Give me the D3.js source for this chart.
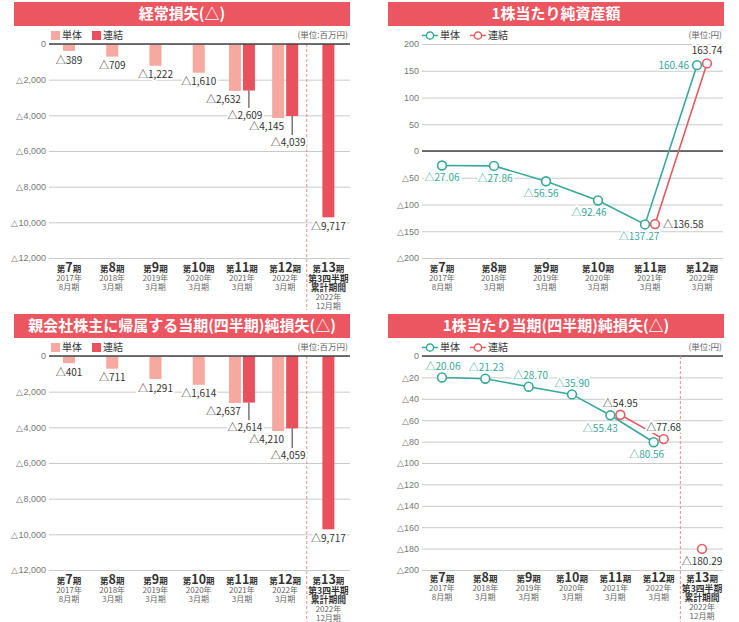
<!DOCTYPE html>
<html><head><meta charset="utf-8">
<script src="https://cdn.jsdelivr.net/npm/d3@7"></script>
<style>body{margin:0;background:#fff}svg{display:block;font-family:"Noto Sans CJK JP","Noto Sans",sans-serif}</style>
</head><body><svg id="c" width="739" height="622"></svg>
<script>
// ---------- data ----------
const periodNums = ["7","8","9","10","11","12","13"];
const periodYears = ["2017年","2018年","2019年","2020年","2021年","2022年","2022年"];
const periodMonths = ["8月期","3月期","3月期","3月期","3月期","3月期","12月期"];
const extraLines13 = ["第3四半期","累計期間"];
const seriesNames = ["単体","連結"];

const ordinaryLossSingle = [-389,-709,-1222,-1610,-2632,-4145,null];
const ordinaryLossConsol = [null,null,null,null,-2609,-4039,-9717];
const netLossSingle = [-401,-711,-1291,-1614,-2637,-4210,null];
const netLossConsol = [null,null,null,null,-2614,-4059,-9717];
const bpsSingle = [-27.06,-27.86,-56.56,-92.46,-137.27,160.46];
const bpsConsol = [null,null,null,null,-136.58,163.74];
const epsSingle = [-20.06,-21.23,-28.70,-35.90,-55.43,-80.56,null];
const epsConsol = [null,null,null,null,-54.95,-77.68,-180.29];

const barTicks = [0,-2000,-4000,-6000,-8000,-10000,-12000];
const bpsTicks = [200,150,100,50,0,-50,-100,-150,-200];
const epsTicks = [0,-20,-40,-60,-80,-100,-120,-140,-160,-180,-200];

const titles = ["経常損失(△)","1株当たり純資産額","親会社株主に帰属する当期(四半期)純損失(△)","1株当たり当期(四半期)純損失(△)"];
const unitMillion = "(単位:百万円)";
const unitYen = "(単位:円)";

// ---------- style ----------
const C = {title:"#ec5660", light:"#f6a9a1", dark:"#e9525c", teal:"#38a898", red:"#e35b62",
  grid:"#cacaca", zero:"#444", tick:"#777", text:"#333", sub:"#666", dash:"#e98b90"};
const svg = d3.select("#c");
svg.append("rect").attr("width",739).attr("height",622).attr("fill","#fff");
const fmtInt = d3.format(",");
const fmt2 = d3.format(".2f");
const tri = v => v===0 ? "0" : (v<0 ? "△"+fmtInt(-v) : fmtInt(v));
const tri2 = v => v<0 ? "△"+fmt2(-v) : fmt2(v);

function titleBar(x0,x1,y0,text){
  svg.append("rect").attr("x",x0).attr("y",y0).attr("width",x1-x0).attr("height",24).attr("fill",C.title);
  svg.append("text").attr("x",(x0+x1)/2).attr("y",y0+12).attr("dy","0.36em").attr("text-anchor","middle")
    .attr("fill","#fff").attr("font-size",15).attr("font-weight","bold").text(text);
}
function unitText(x,y,t){
  svg.append("text").attr("x",x).attr("y",y).attr("dy","0.35em").attr("text-anchor","end")
    .attr("font-size",8.5).attr("fill",C.sub).text(t);
}
function yAxis(y, ticks, left, right, fmt){
  const g = svg.append("g").attr("transform",`translate(${left},0)`)
    .call(d3.axisLeft(y).tickValues(ticks).tickSize(-(right-left)).tickPadding(3).tickFormat(fmt));
  g.select(".domain").remove();
  g.selectAll(".tick line").attr("stroke",C.grid).attr("stroke-width",1);
  g.selectAll(".tick text").attr("fill",C.tick).attr("font-size",9).attr("font-family","inherit");
  return g;
}
function zeroLine(y,left,right){
  svg.append("line").attr("x1",left).attr("x2",right).attr("y1",y(0)).attr("y2",y(0))
    .attr("stroke",C.zero).attr("stroke-width",1.3);
}
// each category label is one multi-line text element
function catLabels(x, base, n){
  for(let i=0;i<n;i++){
    const cx = x(i)+x.bandwidth()/2;
    const t = svg.append("text").attr("x",cx).attr("y",base).attr("text-anchor","middle")
      .attr("fill",C.text);
    t.append("tspan").attr("font-size",8.5).attr("font-weight","bold").text("第");
    t.append("tspan").attr("font-size",12.5).attr("font-weight","bold").text(periodNums[i]);
    t.append("tspan").attr("font-size",8.5).attr("font-weight","bold").text("期");
    let first = true;
    if(i===6){
      extraLines13.forEach(s=>{
        t.append("tspan").attr("x",cx).attr("dy",9.5).attr("font-size",8.8).attr("font-weight","bold")
          .attr("fill",C.text).text(s);
      });
      t.append("tspan").attr("x",cx).attr("dy",8.6).attr("font-size",8).attr("fill",C.sub).text(periodYears[i]);
    } else {
      t.append("tspan").attr("x",cx).attr("dy",8.6).attr("font-size",8).attr("fill",C.sub).text(periodYears[i]);
    }
    t.append("tspan").attr("x",cx).attr("dy",9).attr("font-size",8).attr("fill",C.sub).text(periodMonths[i]);
  }
}
function haloText(x,y,t,color,anchor){
  return svg.append("text").attr("x",x).attr("y",y).attr("dy","0.36em").attr("text-anchor",anchor||"middle")
    .attr("font-size",10).attr("fill",color).attr("stroke","#fff").attr("stroke-width",4)
    .attr("paint-order","stroke").attr("stroke-linejoin","round").text(t);
}

// ---------- bar panels ----------
function barPanel(top, titleText, single, consol){
  const left=49, right=350;
  titleBar(14,350,top,titleText);
  [C.light,C.dark].forEach((c,i)=>{
    const lx = 51 + i*41;
    svg.append("rect").attr("x",lx).attr("y",top+29).attr("width",9).attr("height",9).attr("fill",c);
    svg.append("text").attr("x",lx+11).attr("y",top+33.5).attr("dy","0.36em").attr("font-size",10)
      .attr("fill",C.text).text(seriesNames[i]);
  });
  unitText(348,top+33.5,unitMillion);
  const y = d3.scaleLinear().domain([0,-12000]).range([top+42, top+256]);
  const x = d3.scaleBand().domain(d3.range(7)).range([47.4,350]);
  yAxis(y, barTicks, left, right, tri);
  const sepX = x(6);
  svg.append("line").attr("x1",sepX).attr("x2",sepX).attr("y1",y(0)).attr("y2",top+308)
    .attr("stroke",C.dash).attr("stroke-width",1).attr("stroke-dasharray","3,2");
  const bw=12;
  const cx = i => x(i)+x.bandwidth()/2;
  const both = i => single[i]!=null && consol[i]!=null;
  const pos = (i,k) => cx(i) + (both(i) ? (k===0?-7:7) : 0);
  [single,consol].forEach((arr,k)=>{
    svg.append("g").selectAll("rect").data(arr.map((v,i)=>({v,i})).filter(d=>d.v!=null)).join("rect")
      .attr("x",d=>pos(d.i,k)-bw/2).attr("width",bw)
      .attr("y",y(0)).attr("height",d=>y(d.v)-y(0)).attr("fill",k===0?C.light:C.dark);
  });
  zeroLine(y,left,right);
  single.forEach((v,i)=>{
    if(v==null) return;
    if(both(i)) haloText(pos(i,0)+bw/2, y(v)+8.5, tri(v), C.text, "end");
    else haloText(pos(i,0), y(v)+9, tri(v), C.text);
  });
  consol.forEach((v,i)=>{
    if(v==null) return;
    if(both(i)){
      const ly = Math.max(y(v), y(single[i])) + 24;
      svg.append("line").attr("x1",pos(i,1)).attr("x2",pos(i,1)).attr("y1",y(v)).attr("y2",ly-7)
        .attr("stroke",C.text).attr("stroke-width",1);
      haloText(pos(i,1)-4, ly, tri(v), C.text);
    } else haloText(pos(i,1), y(v)+9, tri(v), C.text);
  });
  catLabels(x, top+270, 7);
}
barPanel(2, titles[0], ordinaryLossSingle, ordinaryLossConsol);
barPanel(314, titles[2], netLossSingle, netLossConsol);

// ---------- line panels ----------
function lineLegend(top){
  [C.teal,C.red].forEach((c,i)=>{
    const lx = 422 + i*48;
    svg.append("line").attr("x1",lx).attr("x2",lx+16).attr("y1",top+33.5).attr("y2",top+33.5)
      .attr("stroke",c).attr("stroke-width",1.5);
    svg.append("circle").attr("cx",lx+8).attr("cy",top+33.5).attr("r",3.6).attr("fill","#fff")
      .attr("stroke",c).attr("stroke-width",1.5);
    svg.append("text").attr("x",lx+18).attr("y",top+33.5).attr("dy","0.36em").attr("font-size",10)
      .attr("fill",C.text).text(seriesNames[i]);
  });
}
function linePanel(o){
  const left=422, right=723, top=o.top;
  titleBar(388,724,top,o.title);
  lineLegend(top);
  unitText(722,top+33.5,unitYen);
  const n = o.single.length;
  const y = d3.scaleLinear().domain(o.domain).range([top+42, top+256]);
  const x = d3.scaleBand().domain(d3.range(n)).range(o.xr);
  yAxis(y, o.ticks, left, right, tri);
  zeroLine(y,left,right);
  if(o.sep){
    const sx = x(n-1);
    svg.append("line").attr("x1",sx).attr("x2",sx).attr("y1",y(0)).attr("y2",622)
      .attr("stroke",C.dash).attr("stroke-width",1).attr("stroke-dasharray","3,2");
  }
  const cx = i => x(i)+x.bandwidth()/2;
  const both = i => o.single[i]!=null && o.consol[i]!=null;
  const px = (i,k) => cx(i) + (both(i) ? (k===0?-5:5) : 0);
  [o.single,o.consol].forEach((arr,k)=>{
    const color = k===0?C.teal:C.red;
    const pts = arr.map((v,i)=>({v,i})).filter(d=>d.v!=null && (!o.sep || d.i<n-1));
    svg.append("path").datum(pts).attr("fill","none").attr("stroke",color).attr("stroke-width",1.6)
      .attr("d",d3.line().x(d=>px(d.i,k)).y(d=>y(d.v)));
  });
  [o.single,o.consol].forEach((arr,k)=>{
    const color = k===0?C.teal:C.red;
    const pts = arr.map((v,i)=>({v,i})).filter(d=>d.v!=null);
    svg.append("g").selectAll("circle").data(pts).join("circle")
      .attr("cx",d=>px(d.i,k)).attr("cy",d=>y(d.v)).attr("r",4.4)
      .attr("fill","#fff").attr("stroke",color).attr("stroke-width",1.6);
    const lbl = k===0?o.singleLbl:o.consolLbl;
    pts.forEach(d=>{
      const L = lbl[d.i];
      haloText(px(d.i,k)+L[0], y(d.v)+L[1], tri2(d.v), k===0?C.teal:C.text, L[2]||"middle");
    });
  });
  catLabels(x, o.catBase, n);
}
linePanel({top:2, title:titles[1], single:bpsSingle, consol:bpsConsol, domain:[200,-200], ticks:bpsTicks,
  xr:[416,728], sep:false, catBase:272,
  singleLbl:[[0,12],[1,12],[-5,12],[-9,12],[-6,12],[-8,0,"end"]],
  consolLbl:[null,null,null,null,[8,0,"start"],[0,-13]]});
linePanel({top:314, title:titles[3], single:epsSingle, consol:epsConsol, domain:[0,-200], ticks:epsTicks,
  xr:[420.3,723.7], sep:true, catBase:582,
  singleLbl:[[1,-11],[1,-11],[2,-11],[0,-11],[-10,13],[-7,12],null],
  consolLbl:[null,null,null,null,[0,-11],[0,-12],[0,12]]});
</script></body></html>
